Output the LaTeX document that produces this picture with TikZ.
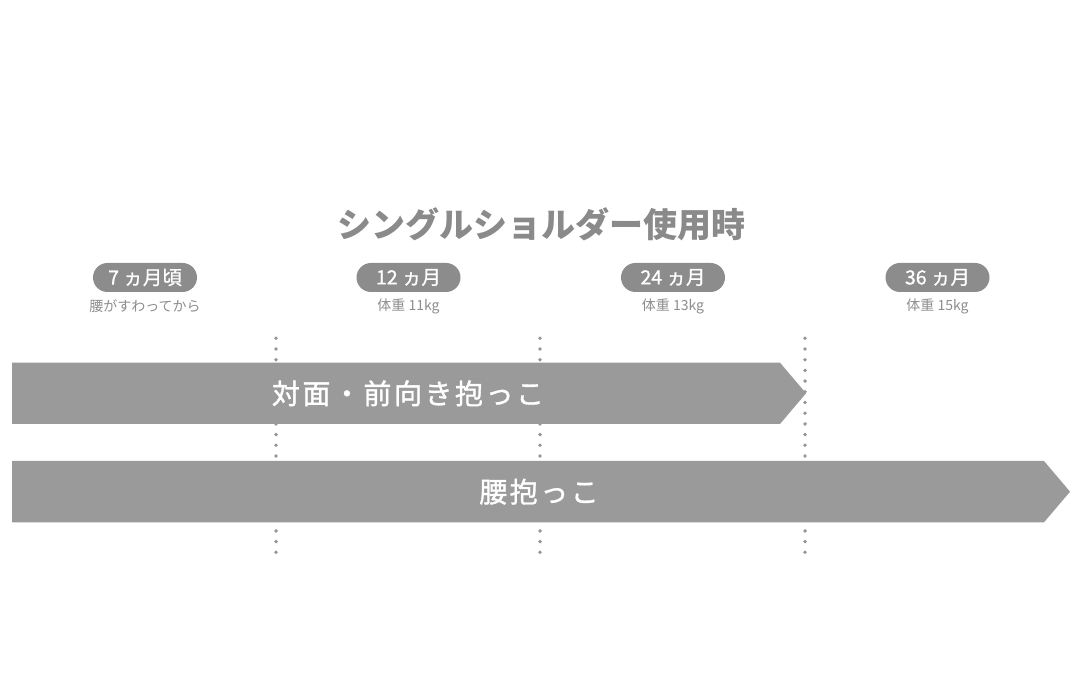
\documentclass[tikz,border=0pt]{standalone}
\usepackage{fontspec}
\setmainfont{Noto Sans CJK JP}
\newfontfamily\barfont[LetterSpace=9,FakeBold=1.2]{Noto Sans CJK JP}
\newfontfamily\pillfont[FakeBold=1]{Noto Sans CJK JP}
\definecolor{bargray}{HTML}{9A9A9A}
\definecolor{pillgray}{HTML}{8C8C8C}
\definecolor{titlegray}{HTML}{8A8A8A}
\definecolor{subgray}{HTML}{8E8E8E}
\definecolor{dotgray}{HTML}{959595}
\tikzset{
  pill/.style={fill=pillgray, rounded corners=14.5pt, minimum width=104pt, minimum height=29pt, inner sep=0pt, text=white, font=\pillfont\fontsize{19.5}{19.5}\selectfont},
  subtxt/.style={text=subgray, inner sep=0pt, font=\fontsize{14}{14}\selectfont},
  bartxt/.style={text=white, inner sep=0pt, font=\barfont\fontsize{28}{28}\selectfont},
  dotline/.style={draw=dotgray, line width=3.8pt, line cap=round, dash pattern=on 0pt off 10.7pt},
  barshape/.style={fill=bargray, draw=none}
}
\begin{document}
\begin{tikzpicture}[x=1pt,y=-1pt]
\useasboundingbox[fill=white] (0,0) rectangle (1080,692);
% title
\node[text=titlegray, inner sep=0pt, font=\bfseries\fontsize{34}{34}\selectfont] (title) at (541.5,224) {シングルショルダー使用時};
% pills
\node[pill] (p1) at (145,277.5) {7 ヵ月頃};
\node[pill] (p2) at (408.5,277.5) {12 ヵ月};
\node[pill] (p3) at (673,277.5) {24 ヵ月};
\node[pill] (p4) at (937.5,277.5) {36 ヵ月};
\node[subtxt] (s1) at (145,306.5) {腰がすわってから};
\node[subtxt] (s2) at (408.5,306.5) {体重 11kg};
\node[subtxt] (s3) at (673,306.5) {体重 13kg};
\node[subtxt] (s4) at (937.5,306.5) {体重 15kg};
% dotted lines
\coordinate (d1t) at (276,338.3); \coordinate (d1b) at (276,553);
\coordinate (d2t) at (540,338.3); \coordinate (d2b) at (540,553);
\coordinate (d3t) at (805,338.3); \coordinate (d3b) at (805,553);
\draw[dotline] (d1t) -- (d1b);
\draw[dotline] (d2t) -- (d2b);
\draw[dotline] (d3t) -- (d3b);
% bars
\fill[barshape] (12,362.7) -- (780,362.7) -- (806,393.3) -- (780,424) -- (12,424) -- cycle;
\fill[barshape] (12,461) -- (1044,461) -- (1070,491.7) -- (1044,522.3) -- (12,522.3) -- cycle;
\node[bartxt] (b1) at (408,393.3) {対面・前向き抱っこ};
\node[bartxt] (b2) at (539,491.7) {腰抱っこ};
\end{tikzpicture}
\end{document}
